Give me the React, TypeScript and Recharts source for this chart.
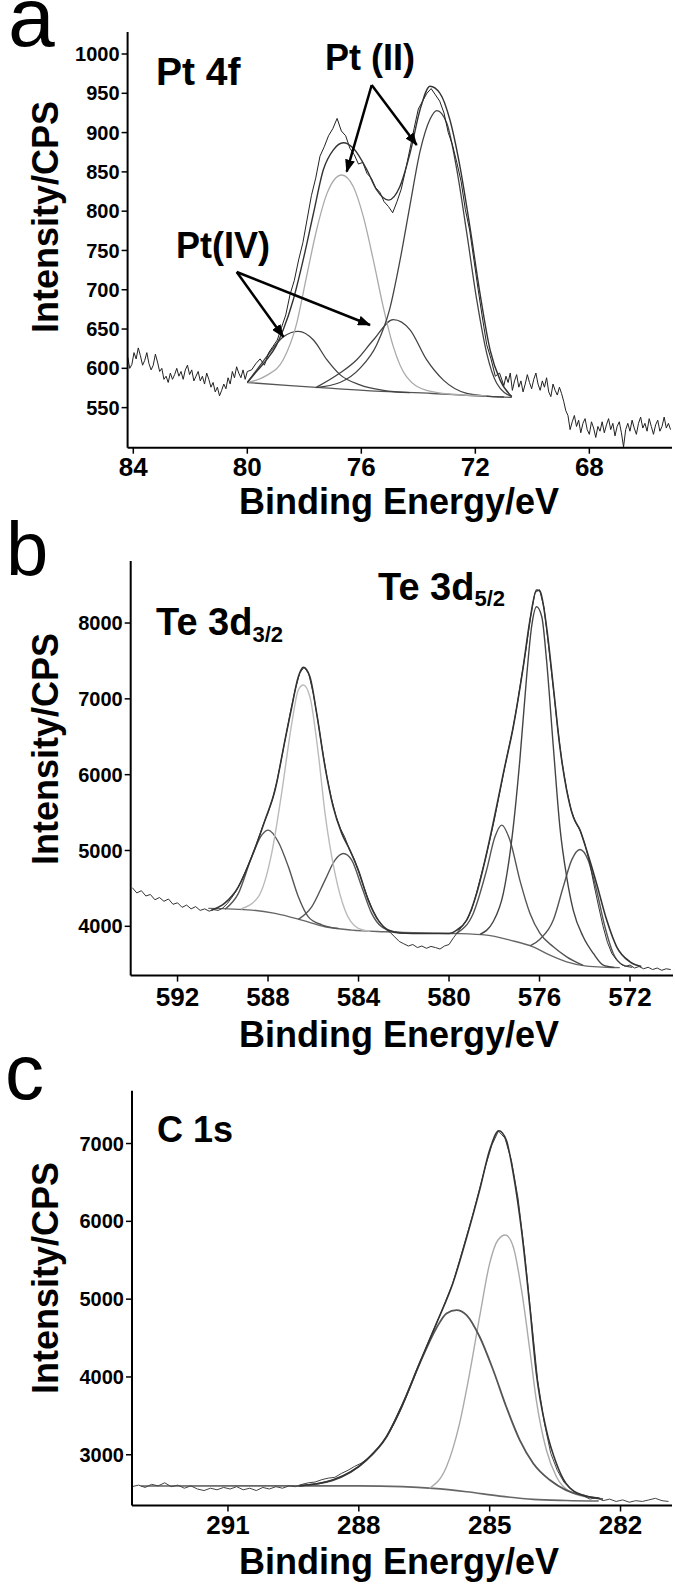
import React from 'react';
import { LineChart, Line, XAxis, YAxis } from 'recharts';

type Pt = [number, number];

const font = 'Liberation Sans, Arial, Helvetica, sans-serif';

// ---------- panel a : Pt 4f ----------
const ptTicksX = [84, 80, 76, 72, 68];
const ptTicksY = [550, 600, 650, 700, 750, 800, 850, 900, 950, 1000];

const ptRaw: Pt[] = [
  [84.2, 615], [84.125, 600], [84.05, 605], [83.975, 620], [83.9, 612], [83.825, 626], [83.75, 616], [83.675, 604],
  [83.6, 610], [83.525, 620], [83.45, 606], [83.375, 598], [83.3, 604], [83.225, 618], [83.15, 608], [83.075, 596],
  [83.0, 600], [82.925, 586], [82.85, 590], [82.775, 582], [82.7, 594], [82.625, 586], [82.55, 592], [82.475, 600],
  [82.4, 590], [82.325, 596], [82.25, 586], [82.175, 598], [82.1, 604], [82.025, 592], [81.95, 598], [81.875, 584],
  [81.8, 590], [81.725, 596], [81.65, 584], [81.575, 590], [81.5, 580], [81.425, 594], [81.35, 586], [81.275, 576],
  [81.2, 582], [81.125, 570], [81.05, 576], [80.975, 565], [80.9, 572], [80.825, 580], [80.75, 574], [80.675, 588],
  [80.6, 580], [80.525, 596], [80.45, 588], [80.375, 602], [80.3, 594], [80.225, 588], [80.15, 598], [80.075, 586],
  [80.0, 596], [79.85, 598], [79.7, 606], [79.55, 612], [79.4, 604], [79.25, 620], [79.1, 628], [78.95, 636],
  [78.8, 652], [78.65, 668], [78.5, 694], [78.35, 712], [78.2, 738], [78.05, 760], [77.9, 790], [77.75, 820],
  [77.6, 842], [77.45, 870], [77.3, 882], [77.15, 896], [77.0, 905], [76.85, 918], [76.7, 902], [76.55, 896],
  [76.4, 880], [76.25, 872], [76.1, 860], [75.95, 862], [75.8, 848], [75.65, 842], [75.5, 830], [75.35, 824],
  [75.2, 812], [75.05, 806], [74.9, 798], [74.75, 812], [74.6, 828], [74.45, 852], [74.3, 878], [74.15, 905],
  [74.0, 930], [73.85, 940], [73.7, 950], [73.55, 956], [73.4, 948], [73.25, 940], [73.1, 925], [72.95, 900],
  [72.8, 884], [72.65, 862], [72.5, 838], [72.35, 802], [72.2, 776], [72.05, 738], [71.9, 700], [71.75, 664],
  [71.6, 630], [71.45, 612], [71.3, 590], [71.15, 594], [71.0, 578], [70.925, 590], [70.85, 582], [70.775, 594],
  [70.7, 572], [70.625, 584], [70.55, 592], [70.475, 576], [70.4, 584], [70.325, 570], [70.25, 580], [70.175, 592],
  [70.1, 582], [70.025, 574], [69.95, 586], [69.875, 594], [69.8, 580], [69.725, 572], [69.65, 584], [69.575, 576],
  [69.5, 588], [69.425, 570], [69.35, 564], [69.275, 580], [69.2, 572], [69.125, 566], [69.05, 576], [68.975, 568],
  [68.9, 558], [68.825, 546], [68.75, 540], [68.675, 522], [68.6, 532], [68.525, 540], [68.45, 526], [68.375, 534],
  [68.3, 518], [68.225, 530], [68.15, 536], [68.075, 522], [68.0, 516], [67.925, 532], [67.85, 524], [67.775, 512],
  [67.7, 526], [67.625, 520], [67.55, 532], [67.475, 518], [67.4, 528], [67.325, 536], [67.25, 522], [67.175, 530],
  [67.1, 514], [67.025, 526], [66.95, 532], [66.875, 518], [66.8, 500], [66.725, 522], [66.65, 530], [66.575, 520],
  [66.5, 534], [66.425, 524], [66.35, 516], [66.275, 530], [66.2, 538], [66.125, 524], [66.05, 530], [65.975, 520],
  [65.9, 536], [65.825, 526], [65.75, 516], [65.675, 528], [65.6, 534], [65.525, 520], [65.45, 526], [65.375, 538],
  [65.3, 524], [65.225, 530], [65.15, 522],
];

const ptEnvelope: Pt[] = [
  [80.0, 582], [79.7, 595], [79.32, 611], [79.0, 628], [78.74, 649], [78.39, 687], [78.04, 738], [77.68, 797],
  [77.33, 853], [76.98, 878], [76.63, 887], [76.28, 880], [75.81, 853], [75.46, 827], [75.05, 814], [74.65, 831],
  [74.29, 874], [73.94, 929], [73.59, 959], [73.24, 950], [72.89, 916], [72.54, 857], [72.19, 780], [71.84, 696],
  [71.48, 623], [71.13, 585], [70.72, 564],
];

const ptII_1: Pt[] = [
  [80.0, 582], [79.32, 591], [78.74, 611], [78.27, 657], [77.92, 717], [77.57, 776], [77.21, 822], [76.69, 846],
  [76.28, 831], [75.93, 793], [75.58, 738], [75.23, 678], [74.88, 628], [74.41, 589], [73.71, 572], [72.8, 567],
  [71.6, 565],
];

const ptII_2: Pt[] = [
  [77.6, 575.5], [76.75, 582], [76.05, 600], [75.46, 630], [75.0, 676], [74.65, 736], [74.29, 808], [73.94, 876],
  [73.59, 917], [73.35, 928], [73.0, 912], [72.65, 853], [72.3, 772], [71.95, 687], [71.6, 619], [71.25, 581],
  [70.72, 564],
];

const ptIV_1: Pt[] = [
  [80.0, 582], [79.67, 598], [79.32, 615], [78.74, 640], [78.21, 647], [77.68, 636], [77.21, 611], [76.75, 592],
  [76.05, 579], [75.23, 572], [74.3, 569],
];

const ptIV_2: Pt[] = [
  [77.57, 576], [76.75, 594], [76.16, 611], [75.58, 636], [74.88, 662], [74.29, 649], [73.71, 611], [73.12, 585],
  [72.3, 568], [71.7, 565], [71.0, 563.5],
];

const ptBackground: Pt[] = [
  [80.0, 582], [78.5, 578], [77.0, 574.5], [75.5, 571], [73.5, 568], [72.0, 565], [70.72, 563],
];

// ---------- panel b : Te 3d ----------
const teTicksX = [592, 588, 584, 580, 576, 572];
const teTicksY = [4000, 5000, 6000, 7000, 8000];

const teRaw: Pt[] = [
  [594.0, 4510], [593.8, 4440], [593.6, 4470], [593.4, 4400], [593.2, 4420], [593.0, 4350], [592.8, 4380],
  [592.6, 4330], [592.4, 4360], [592.2, 4290], [592.0, 4310], [591.8, 4250], [591.6, 4280], [591.4, 4230],
  [591.2, 4260], [591.0, 4210], [590.8, 4230], [590.6, 4200], [590.4, 4220], [590.2, 4210], [590.0, 4240],
  [589.8, 4300], [589.6, 4380], [589.4, 4470], [589.2, 4590], [589.0, 4720], [588.8, 4860], [588.6, 5010],
  [588.4, 5180], [588.2, 5350], [588.0, 5500], [587.8, 5680], [587.6, 5920], [587.4, 6220], [587.2, 6530],
  [587.0, 6840], [586.8, 7120], [586.6, 7340], [586.4, 7420], [586.2, 7330], [586.0, 7070], [585.8, 6720],
  [585.6, 6330], [585.4, 5980], [585.2, 5690], [585.0, 5460], [584.8, 5290], [584.6, 5170], [584.4, 5010],
  [584.2, 4890], [584.0, 4730], [583.8, 4550], [583.6, 4380], [583.4, 4230], [583.2, 4110], [583.0, 4030],
  [582.8, 3960], [582.6, 3920], [582.4, 3860], [582.2, 3800], [582.0, 3770], [581.8, 3740], [581.6, 3760],
  [581.4, 3720], [581.2, 3740], [581.0, 3710], [580.8, 3735], [580.6, 3720], [580.4, 3700], [580.2, 3740],
  [580.0, 3760], [579.8, 3850], [579.6, 3930], [579.4, 4010], [579.2, 4090], [579.0, 4220], [578.8, 4420],
  [578.6, 4650], [578.4, 4880], [578.2, 5130], [578.0, 5400], [577.8, 5700], [577.6, 6000], [577.4, 6300],
  [577.2, 6570], [577.0, 6900], [576.8, 7280], [576.6, 7650], [576.4, 8080], [576.2, 8400], [576.0, 8440],
  [575.8, 8200], [575.6, 7700], [575.4, 7170], [575.2, 6620], [575.0, 6150], [574.8, 5800], [574.6, 5530],
  [574.4, 5370], [574.2, 5260], [574.0, 5090], [573.8, 4860], [573.6, 4560], [573.4, 4280], [573.2, 4010],
  [573.0, 3790], [572.8, 3640], [572.6, 3560], [572.4, 3500], [572.2, 3470], [572.0, 3490], [571.8, 3450],
  [571.6, 3470], [571.4, 3440], [571.2, 3460], [571.0, 3430], [570.8, 3450], [570.6, 3420], [570.4, 3440],
  [570.2, 3430],
];

const teEnvelope: Pt[] = [
  [590.5, 4215], [589.9, 4310], [589.31, 4521], [588.72, 4917], [588.13, 5401], [587.69, 5797], [587.25, 6456],
  [586.95, 6896], [586.66, 7292], [586.44, 7415], [586.15, 7292], [585.85, 6809], [585.48, 6104], [585.12, 5576],
  [584.74, 5226], [584.38, 5005], [584.01, 4741], [583.57, 4346], [583.13, 4082], [582.68, 3950], [582.2, 3912],
  [581.0, 3905], [580.0, 3905], [579.66, 3950], [579.22, 4082], [578.78, 4434], [578.34, 4961], [577.9, 5576],
  [577.6, 6016], [577.16, 6632], [576.72, 7423], [576.42, 8040], [576.13, 8435], [575.98, 8420], [575.69, 7951],
  [575.39, 7160], [575.1, 6368], [574.8, 5797], [574.51, 5444], [574.21, 5269], [573.92, 5005], [573.48, 4566],
  [573.03, 4082], [572.59, 3730], [572.0, 3532], [571.5, 3470],
];

const te32_main: Pt[] = [
  [589.2, 4228], [588.43, 4389], [587.84, 4961], [587.4, 5753], [586.95, 6677], [586.66, 7116], [586.44, 7182],
  [586.15, 7028], [585.78, 6281], [585.48, 5489], [585.04, 4698], [584.6, 4214], [584.01, 3972], [583.5, 3935],
];

const te32_high: Pt[] = [
  [589.9, 4225], [589.31, 4434], [588.72, 4917], [588.28, 5203], [587.99, 5269], [587.55, 5115], [587.1, 4785],
  [586.66, 4389], [586.22, 4125], [585.63, 4020], [584.9, 3972],
];

const te32_low: Pt[] = [
  [586.66, 4092], [586.07, 4257], [585.48, 4610], [585.04, 4873], [584.67, 4961], [584.3, 4873], [583.86, 4521],
  [583.42, 4170], [582.98, 3994], [582.39, 3928], [582.0, 3912],
];

const te52_main: Pt[] = [
  [578.63, 3895], [578.05, 4060], [577.6, 4434], [577.16, 5312], [576.87, 6192], [576.57, 7292], [576.35, 7951],
  [576.13, 8215], [575.9, 8083], [575.69, 7512], [575.39, 6368], [575.1, 5312], [574.8, 4653], [574.51, 4214],
  [574.07, 3862], [573.62, 3642], [573.18, 3488], [572.7, 3458],
];

const te52_high: Pt[] = [
  [579.66, 3908], [578.93, 4170], [578.34, 4741], [577.97, 5180], [577.67, 5335], [577.31, 5137], [576.87, 4610],
  [576.42, 4170], [575.98, 3906], [575.39, 3730], [574.8, 3598], [574.07, 3485],
];

const te52_low: Pt[] = [
  [576.4, 3745], [575.98, 3830], [575.39, 4082], [574.95, 4521], [574.58, 4873], [574.21, 5014], [573.85, 4873],
  [573.48, 4478], [573.11, 3994], [572.74, 3642], [572.3, 3488], [571.9, 3458],
];

const teBackground: Pt[] = [
  [590.64, 4236], [588.72, 4214], [587.69, 4170], [586.51, 4082], [585.48, 3994], [584.3, 3950], [582.83, 3928],
  [581.06, 3912], [579.66, 3905], [578.34, 3884], [577.31, 3818], [576.28, 3730], [575.54, 3620], [574.8, 3532],
  [573.92, 3475], [573.03, 3460], [572.45, 3455],
];

// ---------- panel c : C 1s ----------
const cTicksX = [291, 288, 285, 282];
const cTicksY = [3000, 4000, 5000, 6000, 7000];

const cRaw: Pt[] = [
  [293.2, 2590], [293.05, 2610], [292.9, 2580], [292.75, 2620], [292.6, 2600], [292.45, 2640], [292.3, 2590],
  [292.15, 2610], [292.0, 2570], [291.85, 2600], [291.7, 2560], [291.55, 2540], [291.4, 2570], [291.25, 2550],
  [291.1, 2580], [290.95, 2560], [290.8, 2590], [290.65, 2550], [290.5, 2570], [290.35, 2540], [290.2, 2580],
  [290.05, 2560], [289.9, 2590], [289.75, 2570], [289.6, 2600], [289.45, 2590], [289.3, 2620], [289.15, 2640],
  [289.0, 2650], [288.85, 2680], [288.7, 2700], [288.55, 2710], [288.4, 2760], [288.25, 2800], [288.1, 2850],
  [287.95, 2890], [287.8, 2950], [287.65, 3040], [287.5, 3120], [287.35, 3240], [287.2, 3390], [287.05, 3560],
  [286.9, 3760], [286.75, 3970], [286.6, 4180], [286.45, 4390], [286.3, 4590], [286.15, 4780], [286.0, 4990],
  [285.85, 5200], [285.7, 5480], [285.55, 5770], [285.4, 6060], [285.25, 6380], [285.1, 6700], [284.95, 6980],
  [284.8, 7160], [284.65, 7070], [284.5, 6780], [284.35, 6300], [284.2, 5600], [284.05, 4780], [283.9, 3960],
  [283.75, 3420], [283.6, 3020], [283.45, 2800], [283.3, 2650], [283.15, 2560], [283.0, 2500], [282.85, 2470],
  [282.7, 2430], [282.55, 2450], [282.4, 2410], [282.25, 2430], [282.1, 2400], [281.95, 2420], [281.8, 2390],
  [281.65, 2410], [281.5, 2400], [281.35, 2420], [281.2, 2440], [281.05, 2410], [280.9, 2400],
];

const cEnvelope: Pt[] = [
  [289.36, 2600], [288.6, 2675], [287.83, 2932], [287.37, 3231], [286.99, 3661], [286.61, 4175], [286.22, 4689],
  [285.84, 5210], [285.53, 5790], [285.23, 6402], [285.0, 6916], [284.79, 7165], [284.62, 7045], [284.46, 6617],
  [284.27, 5888], [284.08, 4902], [283.93, 4046], [283.7, 3317], [283.47, 2889], [283.25, 2632], [282.87, 2482],
  [282.48, 2440],
];

const cNarrow: Pt[] = [
  [286.38, 2570], [285.99, 2846], [285.69, 3404], [285.46, 4046], [285.23, 4774], [285.0, 5460], [284.81, 5760],
  [284.64, 5824], [284.46, 5674], [284.27, 5118], [284.08, 4347], [283.93, 3700], [283.7, 3061], [283.47, 2718],
  [283.16, 2525], [282.8, 2460],
];

const cBroad: Pt[] = [
  [289.4, 2600], [288.6, 2672], [287.83, 2928], [287.37, 3226], [286.99, 3655], [286.61, 4165], [286.22, 4630],
  [285.99, 4817], [285.76, 4860], [285.53, 4796], [285.23, 4517], [284.92, 4089], [284.62, 3617], [284.31, 3189],
  [284.0, 2889], [283.62, 2675], [283.25, 2546], [282.8, 2470], [282.4, 2430],
];

const cBackground: Pt[] = [
  [293.0, 2598], [290.5, 2600], [288.0, 2600], [287.0, 2590], [286.3, 2568], [285.53, 2525], [284.77, 2469],
  [284.0, 2427], [283.25, 2412], [282.5, 2405],
];

type Series = { pts: Pt[]; color: string; width: number; smooth?: boolean };

const rows = (pts: Pt[]) => pts.map(([x, y]) => ({ x, y }));

const tickX = { fill: '#000', fontSize: 26, fontWeight: 700, fontFamily: font };
const tickY = { fill: '#000', fontSize: 20, fontWeight: 700, fontFamily: font };

function Panel(props: {
  top: number;
  height: number;
  plotTop: number;
  plotBottom: number;
  plotLeft: number;
  plotRight: number;
  xDomain: [number, number];
  xTicks: number[];
  yDomain: [number, number];
  yTicks: number[];
  xTickMargin: number;
  series: Series[];
}) {
  const xAxisH = 40;
  const margin = {
    top: props.plotTop - props.top,
    right: 675 - props.plotRight,
    bottom: props.top + props.height - props.plotBottom - xAxisH,
    left: 0,
  };
  return (
    <div style={{ position: 'absolute', left: 0, top: props.top, width: 675, height: props.height }}>
      <LineChart width={675} height={props.height} margin={margin}>
        <XAxis
          type="number"
          dataKey="x"
          domain={props.xDomain}
          reversed
          allowDataOverflow
          ticks={props.xTicks}
          interval={0}
          height={xAxisH}
          tick={tickX}
          tickSize={6}
          tickMargin={props.xTickMargin}
          axisLine={{ stroke: '#000', strokeWidth: 2 }}
          tickLine={{ stroke: '#000', strokeWidth: 1.5 }}
        />
        <YAxis
          type="number"
          domain={props.yDomain}
          allowDataOverflow
          ticks={props.yTicks}
          interval={0}
          width={props.plotLeft}
          tick={tickY}
          tickSize={6}
          tickMargin={2}
          axisLine={{ stroke: '#000', strokeWidth: 2 }}
          tickLine={{ stroke: '#000', strokeWidth: 1.5 }}
        />
        {props.series.map((s, i) => (
          <Line
            key={i}
            data={rows(s.pts)}
            dataKey="y"
            type={s.smooth ? 'monotone' : 'linear'}
            stroke={s.color}
            strokeWidth={s.width}
            dot={false}
            activeDot={false}
            isAnimationActive={false}
          />
        ))}
      </LineChart>
    </div>
  );
}

export default function App() {
  const titleStyle = { fontFamily: font, fontWeight: 700, fill: '#000' } as const;
  return (
    <div style={{ position: 'absolute', left: 0, top: 0, width: 675, height: 1587, background: '#fff' }}>
      <Panel
        top={0}
        height={530}
        plotTop={32}
        plotBottom={447.7}
        plotLeft={127.6}
        plotRight={672}
        xDomain={[65.1, 84.2]}
        xTicks={ptTicksX}
        yDomain={[499, 1028]}
        yTicks={ptTicksY}
        xTickMargin={4}
        series={[
          { pts: ptBackground, color: '#555', width: 1.3, smooth: true },
          { pts: ptIV_1, color: '#444', width: 1.3, smooth: true },
          { pts: ptIV_2, color: '#444', width: 1.3, smooth: true },
          { pts: ptII_1, color: '#aaa', width: 1.3, smooth: true },
          { pts: ptII_2, color: '#444', width: 1.3, smooth: true },
          { pts: ptRaw, color: '#222', width: 1, smooth: false },
          { pts: ptEnvelope, color: '#333', width: 1.4, smooth: true },
        ]}
      />
      <Panel
        top={530}
        height={530}
        plotTop={561}
        plotBottom={975.6}
        plotLeft={130.7}
        plotRight={673}
        xDomain={[570.1, 594.07]}
        xTicks={teTicksX}
        yDomain={[3350, 8818]}
        yTicks={teTicksY}
        xTickMargin={6}
        series={[
          { pts: teBackground, color: '#666', width: 1.4, smooth: true },
          { pts: te32_high, color: '#555', width: 1.4, smooth: true },
          { pts: te32_low, color: '#555', width: 1.4, smooth: true },
          { pts: te32_main, color: '#bbb', width: 1.4, smooth: true },
          { pts: te52_high, color: '#555', width: 1.4, smooth: true },
          { pts: te52_low, color: '#555', width: 1.4, smooth: true },
          { pts: te52_main, color: '#444', width: 1.4, smooth: true },
          { pts: teRaw, color: '#333', width: 1, smooth: false },
          { pts: teEnvelope, color: '#333', width: 1.6, smooth: true },
        ]}
      />
      <Panel
        top={1060}
        height={527}
        plotTop={1090.7}
        plotBottom={1505.5}
        plotLeft={132}
        plotRight={672}
        xDomain={[280.82, 293.2]}
        xTicks={cTicksX}
        yDomain={[2348, 7679]}
        yTicks={cTicksY}
        xTickMargin={4}
        series={[
          { pts: cBackground, color: '#666', width: 1.6, smooth: true },
          { pts: cNarrow, color: '#aaa', width: 1.4, smooth: true },
          { pts: cBroad, color: '#555', width: 1.8, smooth: true },
          { pts: cRaw, color: '#444', width: 1, smooth: false },
          { pts: cEnvelope, color: '#333', width: 1.6, smooth: true },
        ]}
      />
      <svg
        width={675}
        height={1587}
        style={{ position: 'absolute', left: 0, top: 0, pointerEvents: 'none' }}
      >
        <defs>
          <marker id="head" markerWidth={13} markerHeight={10} refX={12} refY={5} orient="auto" markerUnits="userSpaceOnUse">
            <path d="M0,0 L13,5 L0,10 z" fill="#000" />
          </marker>
        </defs>

        <text x={8} y={46} fontSize={84} fontFamily={font} fill="#000">a</text>
        <text x={6} y={575} fontSize={76} fontFamily={font} fill="#000">b</text>
        <text x={5} y={1099} fontSize={78} fontFamily={font} fill="#000">c</text>

        {[217, 749, 1278].map((cy) => (
          <text key={cy} transform={`translate(58, ${cy}) rotate(-90)`} textAnchor="middle" fontSize={36} {...titleStyle}>
            Intensity/CPS
          </text>
        ))}
        {[514, 1047, 1574].map((by) => (
          <text key={by} x={399} y={by} textAnchor="middle" fontSize={36} {...titleStyle}>
            Binding Energy/eV
          </text>
        ))}

        <text x={156} y={85} fontSize={39} {...titleStyle}>Pt 4f</text>
        <text x={325} y={70} fontSize={36} {...titleStyle}>Pt (II)</text>
        <text x={176} y={258} fontSize={36} {...titleStyle}>Pt(IV)</text>
        <g stroke="#000" strokeWidth={2.5} fill="none">
          <line x1={371.7} y1={85} x2={346.7} y2={171.7} markerEnd="url(#head)" />
          <line x1={371.7} y1={85} x2={416.7} y2={145} markerEnd="url(#head)" />
          <line x1={236.7} y1={272} x2={283.3} y2={336.7} markerEnd="url(#head)" />
          <line x1={236.7} y1={272} x2={370} y2={325} markerEnd="url(#head)" />
        </g>

        <text x={156} y={635} fontSize={38} {...titleStyle}>
          Te 3d<tspan fontSize={22} dy={7}>3/2</tspan>
        </text>
        <text x={378} y={600} fontSize={38} {...titleStyle}>
          Te 3d<tspan fontSize={22} dy={6}>5/2</tspan>
        </text>

        <text x={157} y={1142} fontSize={36} {...titleStyle}>C 1s</text>
      </svg>
    </div>
  );
}
